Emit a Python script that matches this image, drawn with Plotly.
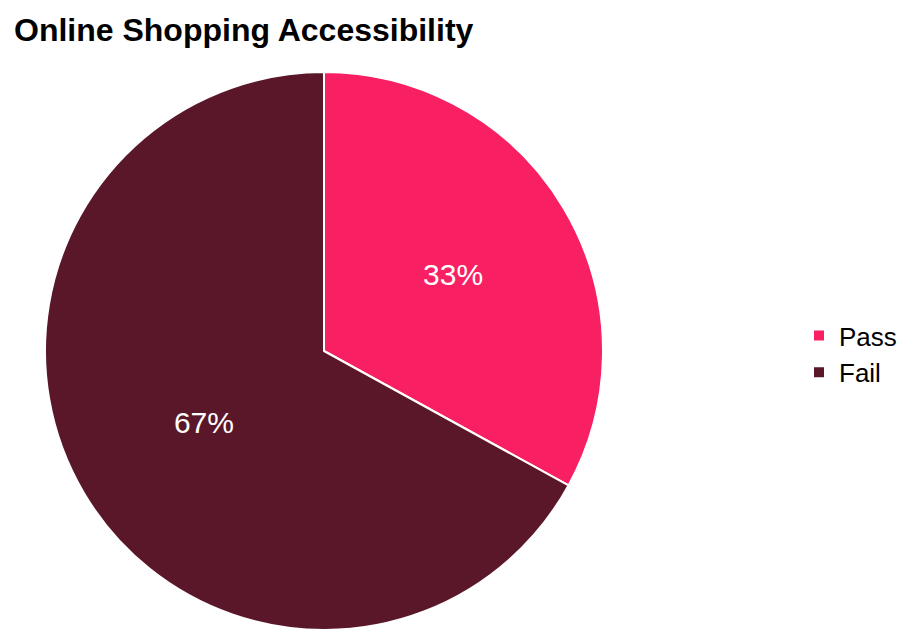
import plotly.graph_objects as go

# Accessibility audit results
labels = ["Pass", "Fail"]
values = [33, 67]
colors = ["#F81F63", "#5A1729"]

W, H = 909, 630
R_MARGIN = 110
PLOT_W = W - R_MARGIN
FONT = "Liberation Sans, Arial, sans-serif"

fig = go.Figure(
    go.Pie(
        labels=labels,
        values=values,
        sort=False,
        direction="clockwise",
        rotation=0,
        marker=dict(colors=colors, line=dict(color="white", width=2)),
        texttemplate="%{percent:.0%}",
        textposition="inside",
        insidetextorientation="horizontal",
        insidetextfont=dict(color="white", size=30, family=FONT),
        hovertemplate="%{label}: %{percent:.0%}<extra></extra>",
        domain=dict(x=[44 / PLOT_W, 604 / PLOT_W], y=[0, (H - 72) / H]),
    )
)

fig.update_layout(
    width=W,
    height=H,
    margin=dict(l=0, r=R_MARGIN, t=0, b=0),
    paper_bgcolor="white",
    plot_bgcolor="white",
    title=dict(
        text="<b>Online Shopping Accessibility</b>",
        x=14 / W,
        xanchor="left",
        y=1 - 30 / H,
        yanchor="middle",
        font=dict(size=32, color="#000000", family=FONT),
    ),
    legend=dict(
        x=1.0,
        xanchor="left",
        y=1 - 354 / H,
        yanchor="middle",
        font=dict(size=26, color="#000000", family=FONT),
        bgcolor="rgba(0,0,0,0)",
        tracegroupgap=0,
    ),
    showlegend=True,
)

fig.write_html("out.html")
